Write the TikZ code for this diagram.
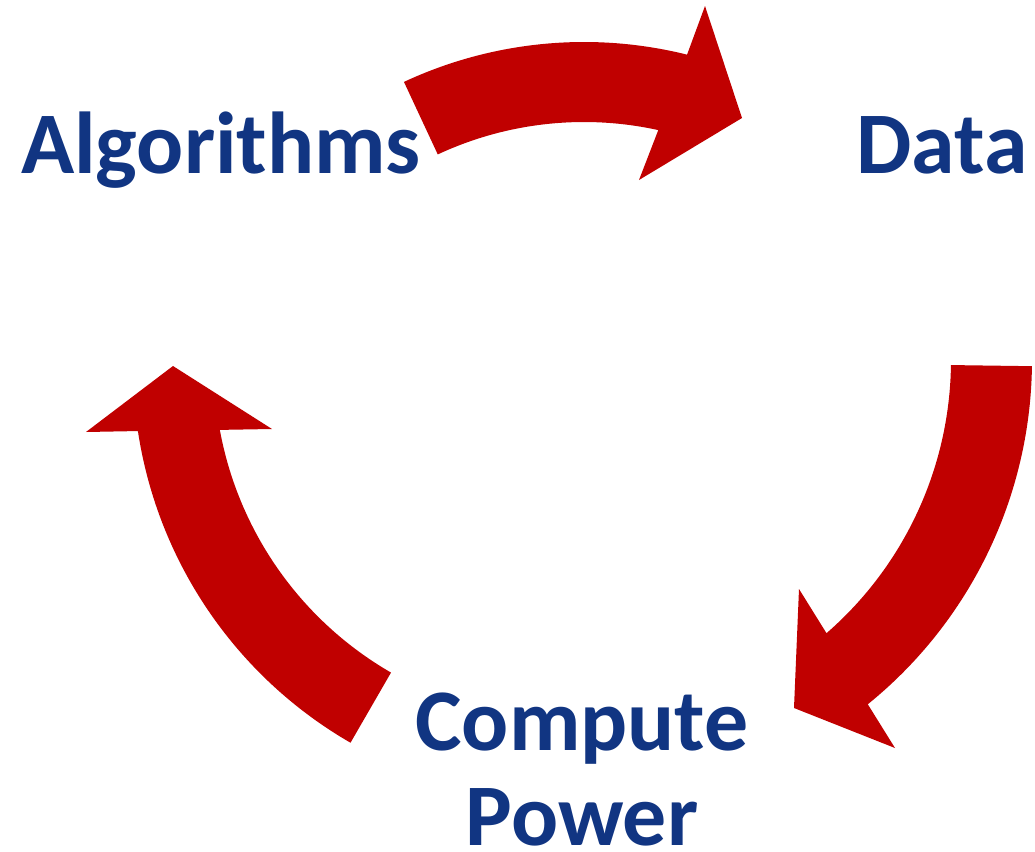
\documentclass[tikz,border=0pt]{standalone}
\usepackage{fontspec}
\setmainfont{Carlito}
\usetikzlibrary{positioning}
\definecolor{cycred}{RGB}{192,0,0}
\definecolor{cycblue}{RGB}{17,53,130}

\begin{document}
\begin{tikzpicture}[x=0.02cm, y=-0.02cm,
    lbl/.style={text=cycblue, font=\fontsize{50}{54}\selectfont\bfseries, inner sep=0pt},
    band/.style={fill=cycred}]
  \useasboundingbox (0,0) rectangle (1035,852);
  \node[lbl, anchor=base] (alg) at (221,173) {Algorithms};
  \node[lbl, anchor=base] (data) at (942,173) {Data};
  \node[lbl, anchor=north, align=center] (comp) at (582,693) {Compute\\Power};
  \coordinate (ctop) at (584,468);
  \coordinate (cright) at (589,360);
  \coordinate (cleft) at (568,366);
  \fill[band, shift={(ctop)}] (-115:346) -- (-115:426)
    arc[start angle=-115, end angle=-76, radius=426]
    -- (121,-462) -- (158,-350) -- (55,-288) -- (-77.6:346)
    arc[start angle=-77.6, end angle=-115, radius=346] -- cycle;
  \fill[band, shift={(cright)}] (0.8:362) -- (0.8:443)
    arc[start angle=0.8, end angle=51, radius=443]
    -- (306,388) -- (205,348) -- (210,229) -- (49:362)
    arc[start angle=49, end angle=0.8, radius=362] -- cycle;
  \fill[band, shift={(cleft)}] (120:354) -- (120:435)
    arc[start angle=120, end angle=171.4, radius=435]
    -- (-482,66) -- (-395,0) -- (-296,63) -- (169.6:354)
    arc[start angle=169.6, end angle=120, radius=354] -- cycle;
\end{tikzpicture}
\end{document}
